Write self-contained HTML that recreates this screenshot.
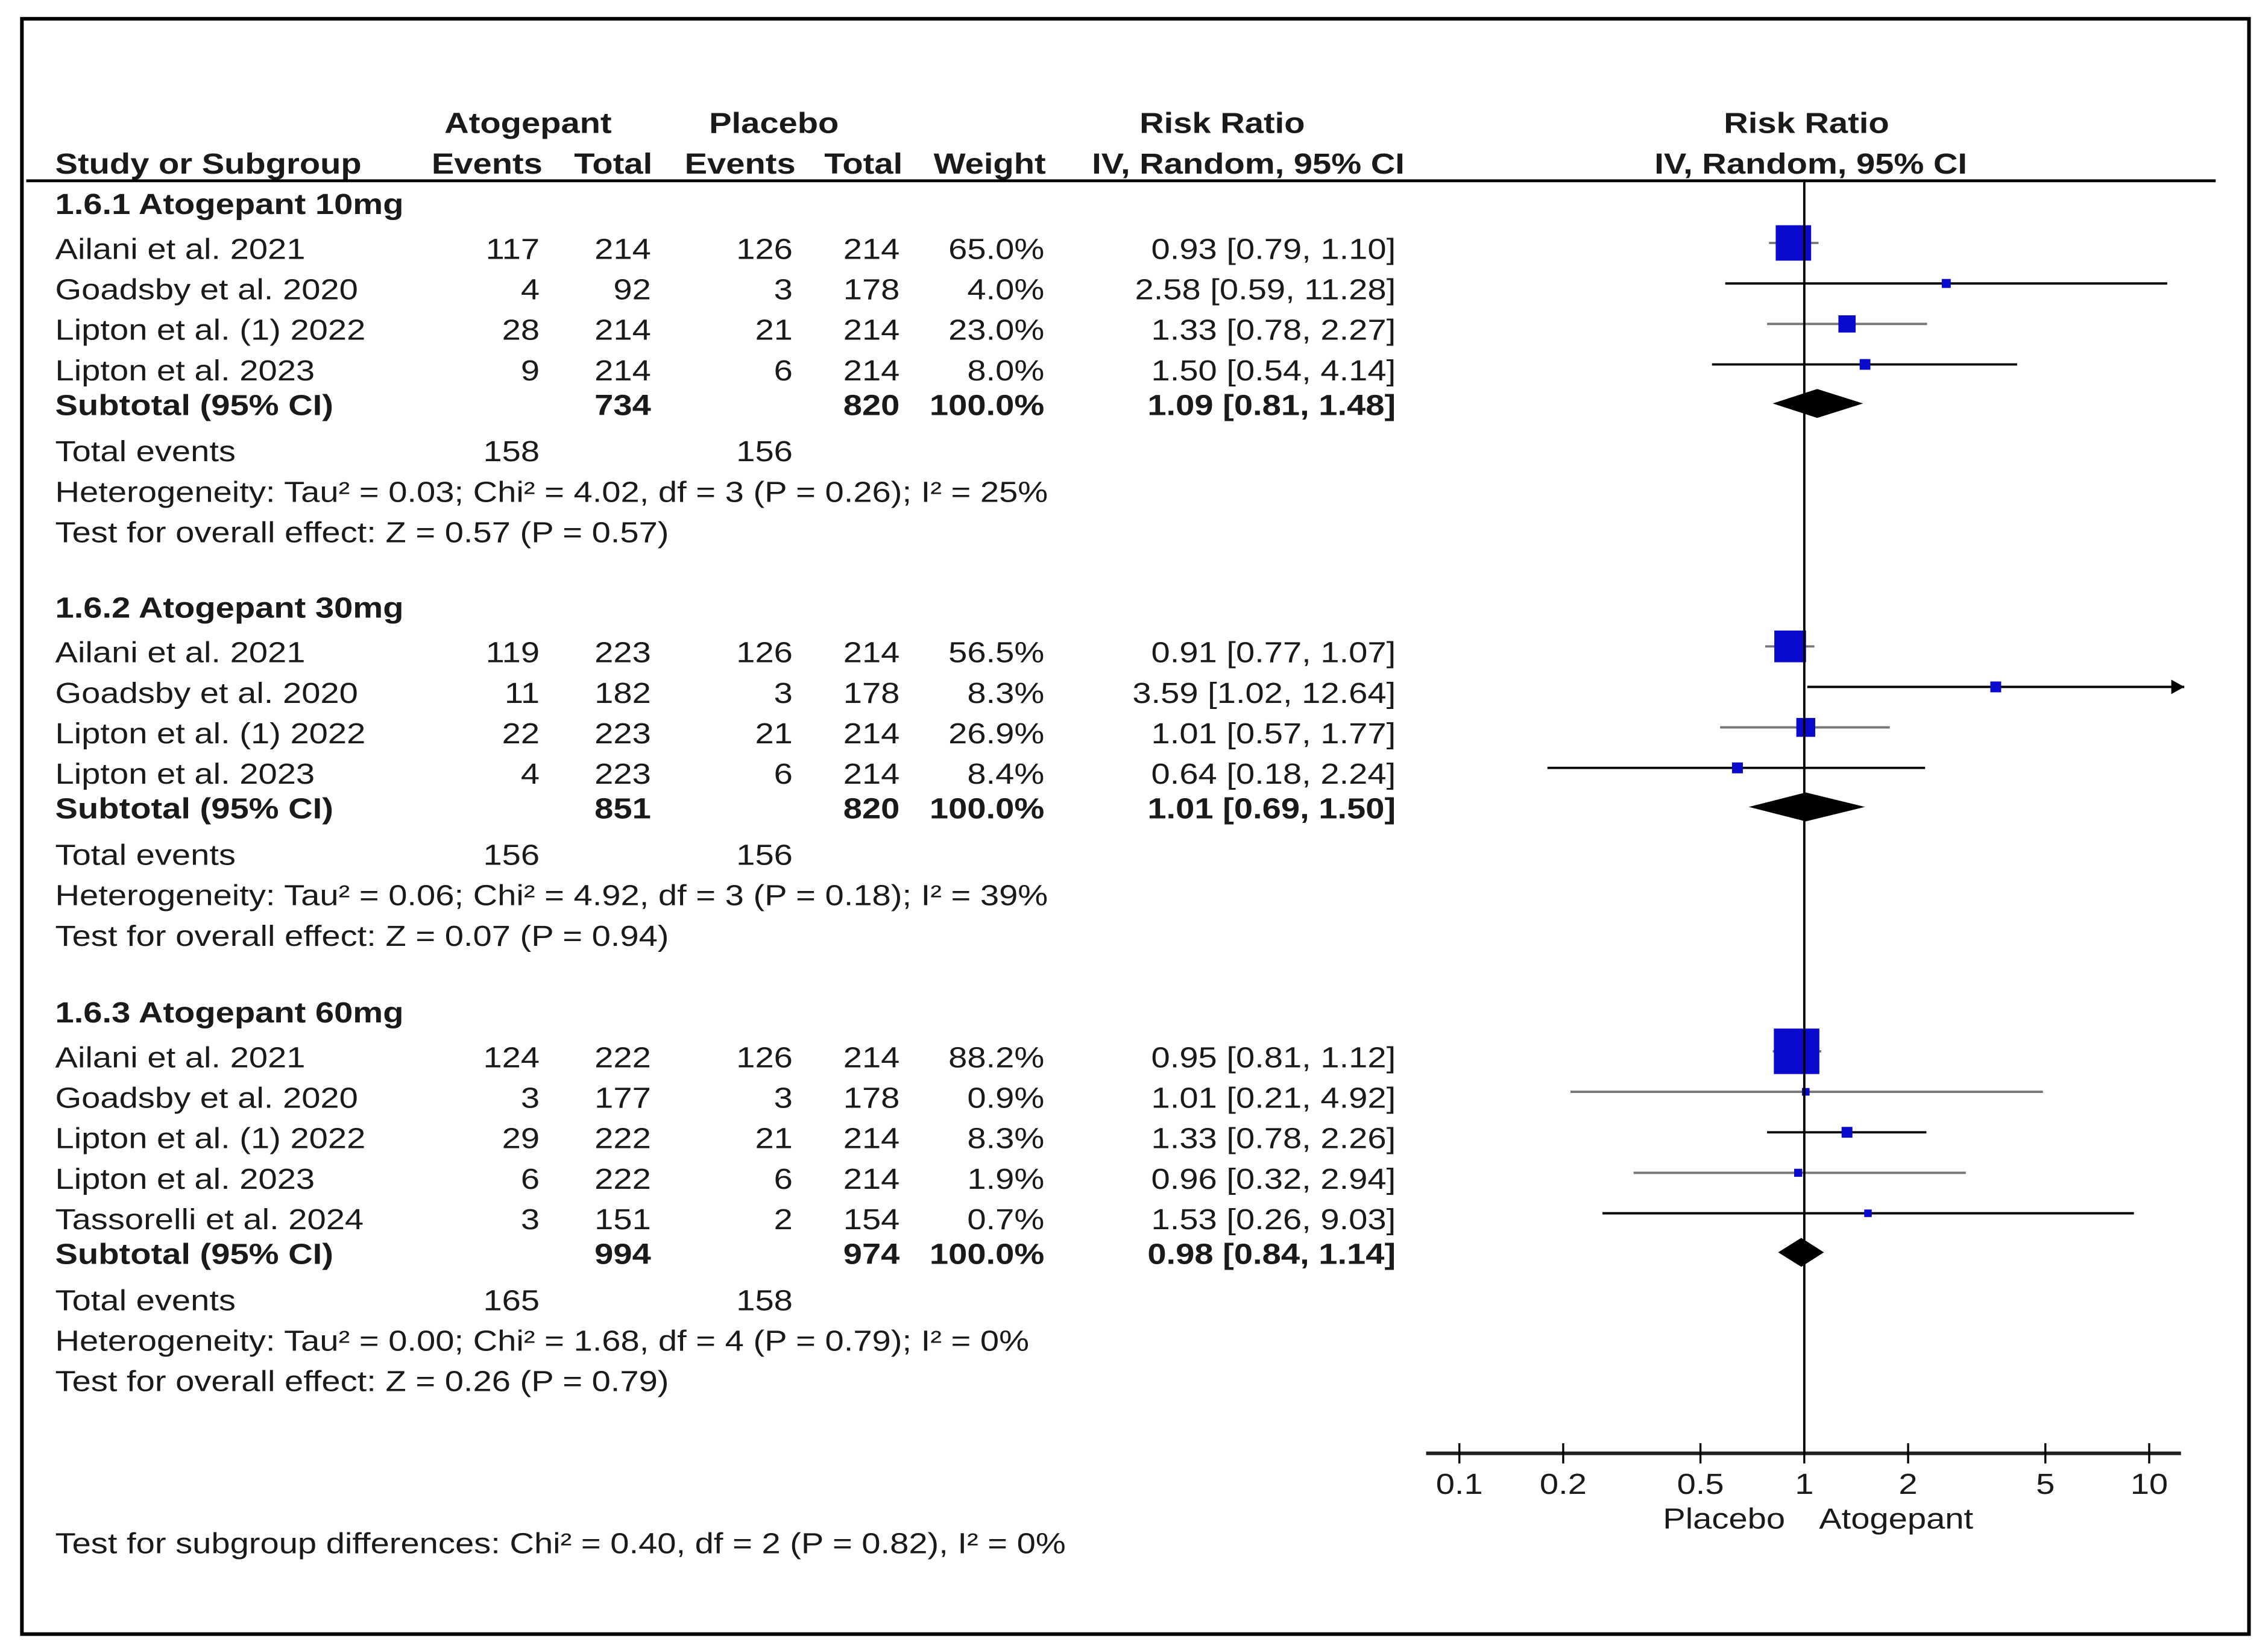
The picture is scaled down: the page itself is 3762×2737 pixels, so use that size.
<!DOCTYPE html>
<html><head><meta charset="utf-8">
<style>
html,body{margin:0;padding:0;background:#fff;}
svg{display:block;font-family:"Liberation Sans",Arial,sans-serif;}
text{font-size:20px;fill:#1a1a1a;}
.b{font-weight:bold;}
</style></head>
<body>
<svg id="fp" width="3762" height="2737" viewBox="0 0 1568 1141" xmlns="http://www.w3.org/2000/svg">
<rect x="15" y="13" width="1540" height="1117" fill="none" stroke="#000" stroke-width="2.5"/>
<g>
<text class="b" x="365" y="92" text-anchor="middle">Atogepant</text>
<text class="b" x="535" y="92" text-anchor="middle">Placebo</text>
<text class="b" x="845" y="92" text-anchor="middle">Risk Ratio</text>
<text class="b" x="1249" y="92" text-anchor="middle">Risk Ratio</text>
<text class="b" x="38" y="120">Study or Subgroup</text>
<text class="b" x="375" y="120" text-anchor="end">Events</text>
<text class="b" x="451" y="120" text-anchor="end">Total</text>
<text class="b" x="550" y="120" text-anchor="end">Events</text>
<text class="b" x="624" y="120" text-anchor="end">Total</text>
<text class="b" x="723" y="120" text-anchor="end">Weight</text>
<text class="b" x="863" y="120" text-anchor="middle">IV, Random, 95% CI</text>
<text class="b" x="1252" y="120" text-anchor="middle">IV, Random, 95% CI</text>
</g>
<line x1="18" y1="125" x2="1532" y2="125" stroke="#000" stroke-width="2"/>
<g id="table"></g>
<g id="plot"></g>
<text x="38" y="1074">Test for subgroup differences: Chi² = 0.40, df = 2 (P = 0.82), I² = 0%</text>
</svg>
<script>
const groupTitles = ["1.6.1 Atogepant 10mg","1.6.2 Atogepant 30mg","1.6.3 Atogepant 60mg"];
const studyNames = [
 ["Ailani et al. 2021","Goadsby et al. 2020","Lipton et al. (1) 2022","Lipton et al. 2023"],
 ["Ailani et al. 2021","Goadsby et al. 2020","Lipton et al. (1) 2022","Lipton et al. 2023"],
 ["Ailani et al. 2021","Goadsby et al. 2020","Lipton et al. (1) 2022","Lipton et al. 2023","Tassorelli et al. 2024"]];
const atoEvents = [[117,4,28,9],[119,11,22,4],[124,3,29,6,3]];
const atoTotal = [[214,92,214,214],[223,182,223,223],[222,177,222,222,151]];
const plcEvents = [[126,3,21,6],[126,3,21,6],[126,3,21,6,2]];
const plcTotal = [[214,178,214,214],[214,178,214,214],[214,178,214,214,154]];
const weights = [[65.0,4.0,23.0,8.0],[56.5,8.3,26.9,8.4],[88.2,0.9,8.3,1.9,0.7]];
const rr = [[0.93,2.58,1.33,1.50],[0.91,3.59,1.01,0.64],[0.95,1.01,1.33,0.96,1.53]];
const lo = [[0.79,0.59,0.78,0.54],[0.77,1.02,0.57,0.18],[0.81,0.21,0.78,0.32,0.26]];
const hi = [[1.10,11.28,2.27,4.14],[1.07,12.64,1.77,2.24],[1.12,4.92,2.26,2.94,9.03]];
const ciShade = [["#777","#000","#777","#000"],["#777","#000","#777","#000"],["#777","#777","#000","#777","#000"]];
const subAtoTotal = [734,851,994];
const subPlcTotal = [820,820,974];
const subRR = [1.09,1.01,0.98];
const subLo = [0.81,0.69,0.84];
const subHi = [1.48,1.50,1.14];
const totAto = [158,156,165];
const totPlc = [156,156,158];
const hetero = ["Heterogeneity: Tau² = 0.03; Chi² = 4.02, df = 3 (P = 0.26); I² = 25%",
 "Heterogeneity: Tau² = 0.06; Chi² = 4.92, df = 3 (P = 0.18); I² = 39%",
 "Heterogeneity: Tau² = 0.00; Chi² = 1.68, df = 4 (P = 0.79); I² = 0%"];
const overall = ["Test for overall effect: Z = 0.57 (P = 0.57)","Test for overall effect: Z = 0.07 (P = 0.94)","Test for overall effect: Z = 0.26 (P = 0.79)"];
const tickVals = [0.1,0.2,0.5,1,2,5,10];
const tickLabels = ["0.1","0.2","0.5","1","2","5","10"];

const NS="http://www.w3.org/2000/svg";
const X0=1247.5, XS=238.5;
const xs = v => X0 + XS*Math.log10(v);
const table=document.getElementById('table'), plot=document.getElementById('plot');
function mk(tag, attrs, parent, txt){const e=document.createElementNS(NS,tag);for(const k in attrs)e.setAttribute(k,attrs[k]);if(txt!==undefined)e.textContent=txt;parent.appendChild(e);return e;}
const f2 = v => v.toFixed(2);

const groupStart=[141,420,700];
groupStart.forEach((gy,g)=>{
  let t=mk('text',{x:38,y:gy+7,class:'b'},table,groupTitles[g]);
  
  
  let y=gy+31;
  studyNames[g].forEach((nm,i)=>{
    const vals=[[38,nm,'start'],[373,atoEvents[g][i],'end'],[450,atoTotal[g][i],'end'],[548,plcEvents[g][i],'end'],[622,plcTotal[g][i],'end'],[722,weights[g][i].toFixed(1)+'%','end'],[965,f2(rr[g][i])+' ['+f2(lo[g][i])+', '+f2(hi[g][i])+']','end']];
    vals.forEach(v=>{
      const e=mk('text',{x:v[0],y:y+7,'text-anchor':v[2]},table,String(v[1]));
      
      
    });
    const py=y-4;
    const xl=xs(lo[g][i]), xh=xs(hi[g][i]);
    const ln=mk('line',{x1:xl,y1:py,x2:xh,y2:py,stroke:ciShade[g][i],'stroke-width':1.6},plot);
    
    
    if(hi[g][i]>12){
      const ar=mk('path',{d:`M${xh} ${py} l-9 -5 v10 z`,fill:'#000'},plot);
      
      
    }
    const s=5+0.3*weights[g][i];
    const bx=mk('rect',{x:xs(rr[g][i])-s/2,y:py-s/2,width:s,height:s,fill:'#0a0acc'},plot);
    
    
    y+=28;
  });
  const sy=y-4;
  const sub=[[38,'Subtotal (95% CI)','start'],[450,subAtoTotal[g],'end'],[622,subPlcTotal[g],'end'],[722,'100.0%','end'],[965,f2(subRR[g])+' ['+f2(subLo[g])+', '+f2(subHi[g])+']','end']];
  sub.forEach(v=>{
    const e=mk('text',{x:v[0],y:sy+7,'text-anchor':v[2],class:'b'},table,String(v[1]));
    
    
  });
  const dy=sy-1;
  const dm=mk('path',{d:`M${xs(subLo[g])} ${dy} L${xs(subRR[g])} ${dy-10} L${xs(subHi[g])} ${dy} L${xs(subRR[g])} ${dy+10} Z`,fill:'#000'},plot);
  
  
  const ty=sy+32;
  [[38,'Total events','start'],[373,totAto[g],'end'],[548,totPlc[g],'end']].forEach(v=>{
    const e=mk('text',{x:v[0],y:ty+7,'text-anchor':v[2]},table,String(v[1]));
    
    
  });
  const h=mk('text',{x:38,y:ty+35},table,hetero[g]);
  
  
  const o=mk('text',{x:38,y:ty+63},table,overall[g]);
  
  
});

const ref=mk('line',{x1:X0,y1:125,x2:X0,y2:1005,stroke:'#000','stroke-width':1.6},plot);


const ax=mk('line',{x1:986,y1:1005,x2:1508,y2:1005,stroke:'#222','stroke-width':2.5},plot);


tickVals.forEach((v,i)=>{
  const tk=mk('line',{x1:xs(v),y1:998,x2:xs(v),y2:1012,stroke:'#000','stroke-width':1.4},plot);
  
  
  const tl=mk('text',{x:xs(v),y:1033,'text-anchor':'middle'},plot,tickLabels[i]);
  
  
});
const pl=mk('text',{x:1192,y:1057,'text-anchor':'middle'},plot,'Placebo');


const at=mk('text',{x:1311,y:1057,'text-anchor':'middle'},plot,'Atogepant');



// horizontally widen text to match reference glyph proportions
const SX=1.17;
document.querySelectorAll('#fp text').forEach(t=>{
  const x=parseFloat(t.getAttribute('x'));
  t.setAttribute('x', x/SX);
  t.setAttribute('transform','scale('+SX+',1)');
});
</script>
</body></html>
